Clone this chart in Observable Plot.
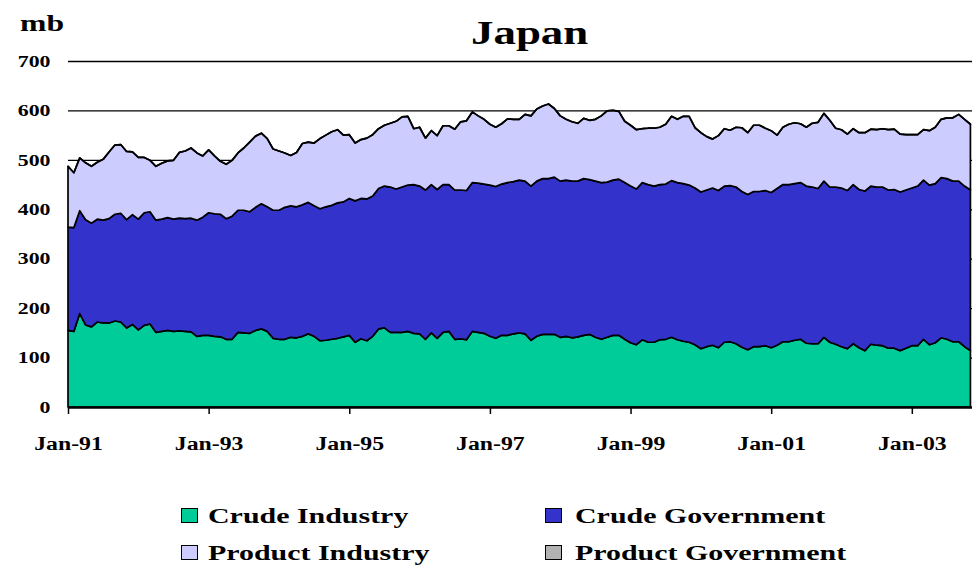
<!DOCTYPE html>
<html>
<head>
<meta charset="utf-8">
<script src="https://cdn.jsdelivr.net/npm/d3@7"></script>
<script src="https://cdn.jsdelivr.net/npm/@observablehq/plot@0.6"></script>
<style>
  html, body { margin: 0; padding: 0; background: #fff; }
  #wrap { position: relative; width: 972px; height: 566px; overflow: hidden; font-family: "Liberation Serif", "Times New Roman", serif; font-weight: bold; color: #000; }
  #header { position: relative; width: 972px; height: 52px; }
  .stretch { position: absolute; display: inline-block; white-space: nowrap; line-height: 1; transform-origin: left top; }
  #legend { position: relative; width: 972px; height: 94px; }
  .sw { position: absolute; width: 17px; height: 15px; border: 1.5px solid #000; box-sizing: border-box; }
  svg text { font-weight: bold; }
</style>
</head>
<body>
<div id="wrap">
  <div id="header"></div>
  <div id="chart"></div>
  <div id="legend"></div>
</div>
<script>
// ---- data ----
const seriesNames = ["Crude Industry", "Crude Government", "Product Industry", "Product Government"];
const seriesColors = ["#00CC99", "#3333CC", "#CCCCFF", "#B2B2B2"];

// monthly, Jan-91 .. Nov-03
const months = d3.utcMonths(new Date(Date.UTC(1991, 0, 1)), new Date(Date.UTC(2003, 11, 1)));

const crudeIndustry = [
  155,153,189,166,162,172,170,170,174,172,
  160,167,156,165,168,151,153,155,153,154,
  153,152,143,145,145,143,142,137,137,151,
  150,149,155,158,153,139,137,137,141,140,
  143,148,143,134,135,137,139,142,145,131,
  138,134,143,158,160,151,151,151,153,149,
  148,137,150,139,151,153,137,138,136,153,
  151,149,143,139,145,145,148,150,148,135,
  143,147,147,147,141,143,140,142,145,147,
  141,137,141,145,145,137,130,126,136,131,
  131,136,137,141,136,133,131,126,118,122,
  125,120,131,132,128,121,116,122,122,124,
  120,125,132,132,135,137,129,128,128,141,
  131,127,122,118,128,120,114,127,125,124,
  119,119,114,119,124,124,137,126,130,140,
  137,132,132,122,114
];
const crudeGovernment = [
  209,210,208,213,210,208,208,211,216,220,
  219,222,224,228,227,227,227,228,227,228,
  228,230,235,239,248,248,248,244,249,247,
  248,246,249,253,252,259,261,267,266,265,
  266,266,264,267,270,271,274,273,277,286,
  284,287,284,284,287,294,290,294,296,301,
  299,302,300,301,299,297,302,301,302,301,
  302,302,306,307,306,309,308,309,309,312,
  314,315,315,318,316,316,317,315,317,313,
  316,317,314,314,316,317,317,315,318,319,
  316,314,314,317,318,319,318,317,317,317,
  318,318,316,316,317,315,314,314,314,314,
  314,317,318,318,317,317,318,317,314,316,
  314,318,321,320,322,320,323,320,320,321,
  320,321,321,320,319,323,322,323,322,324,
  325,325,325,325,325
];
const productIndustry = [
  123,111,107,115,115,115,123,135,140,139,
  138,127,125,112,104,109,113,115,119,133,
  137,142,136,124,127,117,107,110,113,116,
  126,141,144,143,138,124,120,110,102,110,
  124,122,127,142,145,149,148,135,129,117,
  119,123,124,121,123,129,137,142,139,113,
  119,105,109,109,119,119,123,138,141,143,
  136,131,123,120,122,129,126,123,135,142,
  146,147,151,139,132,123,120,117,122,120,
  125,135,144,141,137,124,123,120,109,114,
  117,116,121,130,128,136,139,122,120,108,
  99,111,116,112,121,129,125,134,134,126,
  125,108,116,122,123,119,119,129,134,137,
  135,119,118,114,113,115,118,115,116,118,
  122,122,117,112,108,104,102,110,114,118,
  123,128,135,135,133
];
const productGovernment = [
  0,0,0,0,0,0,0,0,0,0, 0,0,0,0,0,0,0,0,0,0,
  0,0,0,0,0,0,0,0,0,0, 0,0,0,0,0,0,0,0,0,0,
  0,0,0,0,0,0,0,0,0,0, 0,0,0,0,0,0,0,0,0,0,
  0,0,0,0,0,0,0,0,0,0, 0,0,0,0,0,0,0,0,0,0,
  0,0,0,0,0,0,0,0,0,0, 0,0,0,0,0,0,0,0,0,0,
  0,0,0,0,0,0,0,0,0,0, 0,0,0,0,0,0,0,0,0,0,
  0,0,0,0,0,0,0,0,0,0, 0,0,0,0,0,0,0,0,0,0,
  0,0,0,0,0,0,0,0,0,0, 0,0,0,0,0
];

const xTickLabels = ["Jan-91", "Jan-93", "Jan-95", "Jan-97", "Jan-99", "Jan-01", "Jan-03"];
const xTickIndex = [0, 24, 48, 72, 96, 120, 144];
const yTicks = [0, 100, 200, 300, 400, 500, 600, 700];

// ---- table ----
const seriesValues = [crudeIndustry, crudeGovernment, productIndustry, productGovernment];
const rows = [];
seriesNames.forEach((name, s) => {
  months.forEach((m, i) => rows.push({i, month: m, series: name, value: seriesValues[s][i]}));
});

const STRETCH = 1.32;
const LEGEND_STRETCH = 1.36;
const FONT = "'Liberation Serif', 'Times New Roman', serif";

const plot = Plot.plot({
  width: 972,
  height: 420,
  marginLeft: 68,
  marginRight: 0,
  marginTop: 9,
  marginBottom: 65,
  style: {background: "white", fontFamily: FONT, color: "black", overflow: "visible"},
  x: {domain: [0, 154.27], axis: null},
  y: {domain: [0, 700], axis: null},
  color: {domain: seriesNames, range: seriesColors},
  marks: [
    Plot.ruleY(yTicks.filter(d => d > 0), {stroke: "black", strokeWidth: 1.3}),
    Plot.areaY(rows, Plot.stackY({
      x: "i", y: "value", z: "series", fill: "series",
      order: seriesNames,
      stroke: "black", strokeWidth: 1.7, strokeLinejoin: "round"
    })),
    Plot.ruleY([0], {stroke: "black", strokeWidth: 2.6}),
    Plot.axisX({
      ticks: xTickIndex,
      tickFormat: (d) => xTickLabels[xTickIndex.indexOf(d)],
      label: null,
      tickSize: 7, tickPadding: 23, strokeWidth: 1.5,
      fontSize: 18, fontWeight: "bold", fontFamily: FONT, fill: "black", stroke: "black"
    }),
    Plot.axisY({
      ticks: yTicks, label: null, tickSize: 0, tickPadding: 18,
      fontSize: 16.5, fontWeight: "bold", fontFamily: FONT, fill: "black"
    })
  ]
});

document.getElementById("chart").appendChild(plot);

// stretch svg text horizontally like the reference
plot.querySelectorAll("text").forEach(t => {
  const w = t.getComputedTextLength();
  if (w > 0) {
    t.setAttribute("textLength", (w * STRETCH).toFixed(1));
    t.setAttribute("lengthAdjust", "spacingAndGlyphs");
  }
});

// ---- header ----
function addText(parent, text, size, left, top, anchor, stretch) {
  const st = stretch || STRETCH;
  const s = document.createElement("span");
  s.className = "stretch";
  s.textContent = text;
  s.style.fontSize = size + "px";
  parent.appendChild(s);
  const w = s.getBoundingClientRect().width;
  let l = left;
  if (anchor === "middle") l = left - (w * st) / 2;
  s.style.left = l + "px";
  s.style.top = top + "px";
  s.style.transform = `scaleX(${st})`;
  return s;
}
const header = document.getElementById("header");
addText(header, "mb", 24, 20, 11);
addText(header, "Japan", 34, 530, 16, "middle");

// ---- legend ----
const legend = document.getElementById("legend");
const legendPos = [
  {sx: 181, tx: 208, top: 33},
  {sx: 545, tx: 575, top: 33},
  {sx: 181, tx: 208, top: 70},
  {sx: 545, tx: 575, top: 70}
];
seriesNames.forEach((name, k) => {
  const p = legendPos[k];
  const sw = document.createElement("div");
  sw.className = "sw";
  sw.style.background = seriesColors[k];
  sw.style.left = p.sx + "px";
  sw.style.top = (p.top + 3) + "px";
  legend.appendChild(sw);
  addText(legend, name, 22, p.tx, p.top, null, LEGEND_STRETCH);
});
</script>
</body>
</html>
